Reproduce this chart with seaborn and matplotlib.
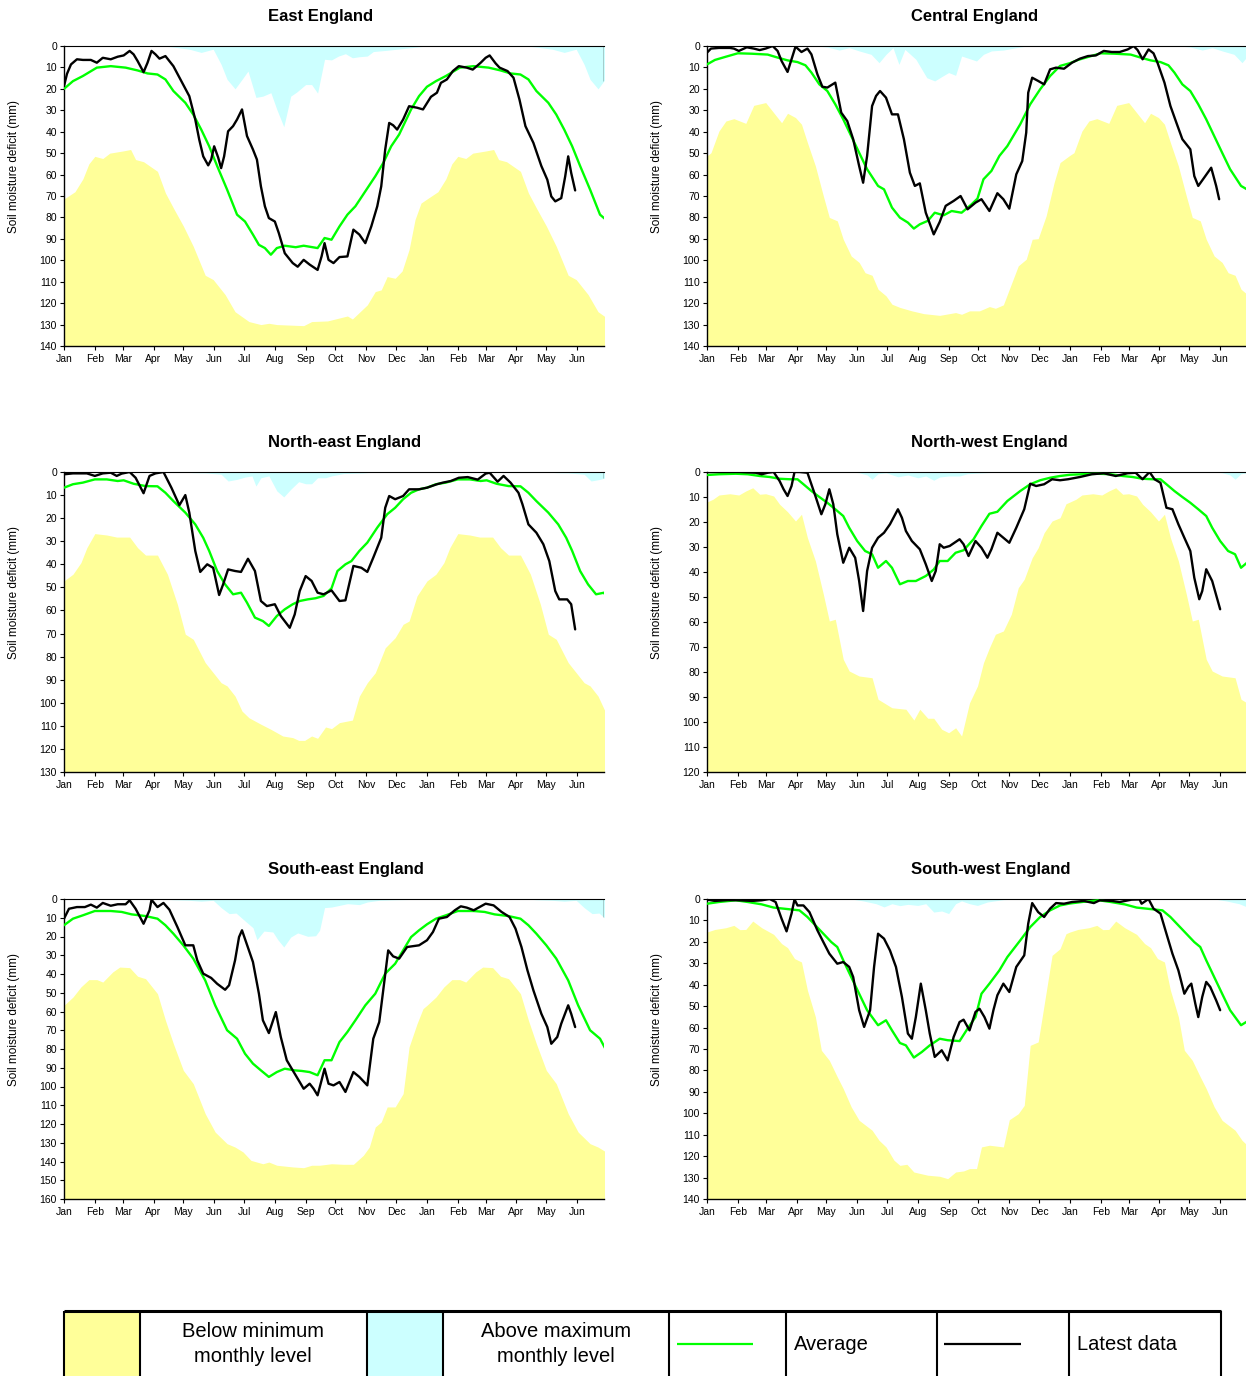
import numpy as np
import pandas as pd
import matplotlib
matplotlib.use("Agg")
import matplotlib.pyplot as plt
import seaborn as sns

# ---------------------------------------------------------------------------
# Data: soil moisture deficit (mm).  x values are days counted from 1 January.
# Minimum / maximum / average levels are calendar climatologies (one year,
# repeated for the following Jan-Jun); latest data runs for 17 months.
# ---------------------------------------------------------------------------
MONTH_LABELS = ["Jan", "Feb", "Mar", "Apr", "May", "Jun", "Jul", "Aug", "Sep",
                "Oct", "Nov", "Dec", "Jan", "Feb", "Mar", "Apr", "May", "Jun"]

REGIONS = ["East England", "Central England", "North-east England",
           "North-west England", "South-east England", "South-west England"]
Y_MAX = [140, 140, 130, 120, 160, 140]

# ---- East England ----
EAST_MIN = [(0, 71.4), (11, 68), (19, 62), (25, 55), (31, 51.5), (39, 52.5), (46, 50), (59, 49),
            (67, 48.3), (72, 53), (80, 54), (94, 58.5), (102, 68.6), (110, 75.6), (120, 84),
            (130, 93.5), (142, 107), (150, 109), (162, 116), (172, 124), (186, 128.6), (198, 130),
            (206, 129.4), (214, 130), (241, 130.5), (249, 128.6), (265, 128.3), (285, 126),
            (290, 127.4), (305, 120.8), (313, 114.6), (319, 113.8), (325, 107.6), (333, 108.4),
            (340, 105), (347, 95), (353, 81), (359, 73.3), (365, 71.4)]
EAST_MAX = [(0, 0), (100, 0), (110, 0.5), (126, 1.5), (138, 3), (150, 1.5), (158, 8.6), (164, 15.6),
            (172, 20), (179, 15.6), (185, 11.7), (193, 24), (200, 23.4), (208, 21.8), (214, 29.6),
            (221, 37.7), (228, 23.4), (234, 21.5), (243, 18), (249, 18), (255, 22), (262, 6.2),
            (269, 6.5), (276, 4.7), (283, 3.6), (290, 5.5), (297, 5), (305, 4.7), (311, 2.6),
            (325, 2), (341, 1.2), (365, 0)]
EAST_AVG = [(0, 20), (9, 16.4), (19, 14), (33, 10.1), (47, 9.4), (62, 10.1), (74, 11.4), (84, 12.8),
            (94, 13.3), (102, 15.6), (110, 21), (122, 26.5), (130, 32), (138, 39), (146, 46.8),
            (154, 56), (164, 67), (174, 78.7), (182, 81.9), (190, 88), (196, 92.8), (202, 94.3),
            (208, 97.4), (214, 94.3), (222, 93.2), (233, 93.9), (241, 93.2), (255, 94.3),
            (262, 89.6), (269, 90.4), (277, 84.2), (285, 78.7), (293, 74.8), (303, 67.8),
            (313, 60.8), (321, 54.6), (329, 46.8), (337, 41.3), (349, 29.6), (357, 23.4), (365, 19)]
EAST_LATEST = [(0, 18.7), (3, 13), (7, 8.6), (13, 6.2), (19, 6.5), (27, 6.5), (33, 7.8), (39, 5.5),
               (47, 6.2), (54, 5), (60, 4.4), (66, 2.3), (70, 3.9), (74, 7), (80, 12.2), (84, 7.8),
               (88, 2.3), (92, 3.9), (96, 5.9), (102, 4.7), (110, 9.4), (118, 16.4), (126, 23.4),
               (132, 34.3), (136, 43.7), (140, 51.5), (145, 55.7), (148, 53), (151, 46.8), (155, 52),
               (158, 57), (161, 51.5), (165, 39.8), (170, 37.4), (174, 34.3), (179, 29.6), (184, 42),
               (190, 48.3), (194, 53), (198, 65.5), (202, 74.8), (206, 80.3), (212, 81.9),
               (216, 87.3), (222, 96.7), (230, 101.3), (235, 103), (241, 99.8), (247, 102),
               (255, 104.5), (259, 98.2), (262, 92), (266, 99.8), (271, 101.3), (277, 98.5),
               (285, 98.2), (291, 85.7), (297, 88), (303, 92), (309, 84.2), (315, 74.8), (319, 65.5),
               (323, 48.3), (327, 35.9), (331, 37), (335, 39), (341, 34.3), (347, 28.1), (355, 28.8),
               (361, 29.6), (369, 23.7), (375, 21.8), (379, 17.2), (385, 15.6), (391, 11.7),
               (397, 9.4), (405, 10.1), (411, 11), (419, 7.8), (424, 5.5), (428, 4.4), (434, 8.1),
               (438, 10.1), (446, 11.7), (452, 14.8), (458, 25), (464, 37.4), (472, 45.2), (480, 56),
               (486, 62.4), (490, 70.2), (494, 72.5), (500, 71), (504, 60.8), (507, 51.5),
               (510, 59.2), (514, 67.4)]

# ---- Central England ----
CENTRAL_MIN = [(0, 51.3), (4, 49.8), (12, 39.7), (19, 35), (27, 33.9), (39, 36.1), (47, 27.7),
               (59, 26.4), (67, 31.1), (75, 35.8), (81, 31.4), (89, 33.4), (95, 36.5), (101, 45.1),
               (109, 56), (117, 70), (123, 80), (131, 81.6), (137, 90.2), (145, 98), (153, 101),
               (159, 105.8), (166, 107), (172, 113.5), (180, 116.6), (186, 120.5), (194, 122),
               (206, 123.6), (218, 124.9), (234, 125.7), (250, 124.4), (256, 125.2), (264, 123.6),
               (274, 123.6), (284, 121.6), (290, 122.4), (298, 120.8), (304, 113.5), (313, 102.6),
               (321, 99.5), (327, 90.2), (333, 89.9), (341, 79.3), (349, 63.8), (355, 54.4), (365, 51)]
CENTRAL_MAX = [(0, 0), (110, 0), (121, 0.5), (133, 1.9), (143, 0.8), (153, 2.3), (165, 3.9),
               (173, 7.8), (180, 3.9), (187, 0.8), (193, 8.6), (199, 1.6), (210, 6.2), (221, 14.8),
               (229, 16.3), (236, 14.3), (243, 12.4), (250, 13.7), (256, 4.7), (264, 5.9), (271, 7),
               (278, 3.9), (286, 2.3), (298, 1.9), (311, 0.8), (319, 0.2), (330, 0), (365, 0)]
CENTRAL_AVG = [(0, 8.6), (8, 6.5), (19, 5), (31, 3.4), (45, 3.6), (61, 4), (71, 5.4), (81, 6.7),
               (91, 7.5), (99, 9), (105, 12.4), (113, 17.9), (121, 21), (129, 27.2), (137, 34.2),
               (145, 42), (153, 49.8), (161, 57.5), (172, 65.3), (178, 66.9), (186, 75.4),
               (194, 80.1), (202, 82.4), (208, 85.2), (214, 83.2), (222, 81.6), (229, 77.8), (238, 79),
               (246, 77), (256, 77.8), (266, 73.9), (272, 71.2), (278, 62.2), (286, 58.3),
               (294, 51.3), (302, 46.7), (315, 36.5), (325, 27.2), (335, 20.2), (345, 14),
               (355, 9.3), (365, 8)]
CENTRAL_LATEST = [(0, 3.1), (4, 1.2), (12, 0.9), (23, 0.9), (27, 1.2), (32, 2.3), (40, 0.6),
                  (47, 1.2), (53, 1.9), (59, 1.2), (66, 0), (71, 2.3), (75, 7), (81, 12.1), (85, 6.2),
                  (89, 0.3), (95, 2.8), (101, 1.2), (105, 3.9), (111, 13.2), (116, 19), (121, 19.4),
                  (129, 17.1), (135, 31.1), (141, 35), (147, 43.5), (153, 56), (157, 63.8),
                  (161, 51.3), (166, 28), (170, 23.3), (174, 21), (180, 24.1), (186, 31.9),
                  (192, 31.9), (198, 43.5), (204, 59.1), (209, 65.3), (214, 64.1), (220, 77.8),
                  (228, 87.9), (234, 82.1), (240, 74.6), (248, 72.3), (255, 70), (262, 76.2),
                  (270, 73.1), (276, 71.5), (284, 77), (292, 68.7), (298, 71.5), (304, 75.9),
                  (311, 59.9), (317, 53.7), (321, 40.4), (323, 21.8), (327, 14.8), (333, 16.3),
                  (339, 17.9), (345, 10.9), (351, 10.1), (359, 10.6), (367, 7.8), (375, 5.9),
                  (383, 4.7), (391, 4.4), (399, 2.3), (407, 2.8), (415, 2.8), (423, 1.6), (429, 0),
                  (433, 1.9), (438, 6.2), (444, 1.6), (449, 3.4), (453, 7.8), (460, 17.1),
                  (466, 28), (472, 35.8), (478, 43.5), (486, 48.2), (490, 60.7), (494, 65.3),
                  (500, 61.4), (507, 56.8), (512, 65.3), (515, 71.5)]

# ---- North-east England ----
NE_MIN = [(0, 47.2), (9, 44.3), (17, 39.3), (23, 32.8), (31, 26.7), (43, 27.3), (53, 28.2),
          (66, 28.2), (74, 32.8), (82, 36), (94, 36), (104, 44.3), (114, 57.3), (122, 70.3),
          (130, 72.5), (142, 82.6), (158, 91.3), (164, 92.7), (172, 97.1), (179, 103.6),
          (186, 106.5), (198, 109.3), (208, 111.5), (220, 114.4), (230, 115.1), (236, 116.3),
          (242, 116.3), (249, 114.4), (255, 115.4), (263, 110.5), (269, 111.2), (277, 108.6),
          (290, 107.5), (297, 97.1), (305, 91.3), (313, 87), (323, 76.2), (333, 71.8), (341, 66),
          (347, 64.6), (355, 53.7), (365, 47.2)]
NE_MAX = [(0, 0), (120, 0), (130, 0.3), (142, 0.4), (158, 1), (165, 3.9), (174, 3.2), (182, 2.2),
          (189, 1.7), (193, 6.1), (198, 2.5), (206, 1.7), (214, 8.2), (221, 10.8), (228, 7.5),
          (236, 4.2), (243, 5.1), (249, 5.1), (255, 2.5), (263, 2.5), (269, 1.7), (281, 0.7),
          (301, 0.4), (313, 0), (365, 0)]
NE_AVG = [(0, 6.8), (9, 5.3), (19, 4.6), (31, 3.2), (43, 3.2), (54, 3.9), (60, 3.6), (70, 5.1),
          (82, 6.1), (94, 6.2), (102, 9), (110, 12.6), (122, 17.6), (132, 22.7), (140, 28.5),
          (146, 34.2), (154, 42.9), (162, 48.7), (170, 53), (178, 52.3), (184, 56.6), (192, 63.1),
          (200, 64.6), (206, 66.7), (214, 62.4), (222, 59.5), (230, 57.3), (237, 55.9),
          (245, 55.2), (253, 54.7), (261, 53.7), (269, 50.4), (275, 42.9), (283, 40), (289, 38.6),
          (297, 34.2), (305, 30.6), (315, 24.1), (325, 18.3), (333, 15.5), (341, 11.8), (349, 9),
          (357, 7.5), (365, 6.8)]
NE_LATEST = [(0, 1), (9, 0.6), (23, 0.6), (31, 1.7), (39, 0.6), (47, 0.3), (53, 1.7), (58, 0.7),
             (66, 0), (72, 2.5), (80, 9.2), (86, 1.7), (92, 0.6), (100, 0), (108, 6.8), (116, 14.4),
             (122, 10), (126, 17.6), (132, 34.2), (137, 43.3), (144, 40), (150, 41.5), (156, 53.3),
             (160, 48.7), (165, 42.2), (172, 42.9), (178, 43.3), (185, 37.6), (192, 42.9),
             (198, 55.9), (204, 58.1), (212, 57.3), (218, 62.4), (227, 67.5), (232, 61.7),
             (237, 51.6), (243, 45.1), (249, 47.2), (255, 52.3), (261, 53), (269, 51.3),
             (277, 55.9), (283, 55.6), (291, 40.7), (299, 41.5), (305, 43.3), (311, 37.1),
             (319, 28.5), (323, 15.5), (327, 10.4), (333, 11.8), (341, 10.4), (347, 7.5),
             (357, 7.5), (365, 6.8), (375, 5.3), (381, 4.6), (389, 3.9), (397, 2.5), (406, 2.2),
             (416, 3.3), (424, 0.7), (428, 0.3), (436, 4.2), (442, 1.7), (449, 4.6), (457, 9),
             (461, 14), (467, 22.7), (475, 26.3), (482, 31.3), (488, 38.6), (494, 51.6),
             (498, 55.2), (506, 55.2), (510, 57.3), (514, 68.2)]

# ---- North-west England ----
NW_MIN = [(0, 12), (6, 10.9), (12, 9.2), (23, 8.7), (32, 9.2), (39, 7.6), (46, 6.3), (53, 8.9),
          (59, 8.7), (67, 9.6), (73, 12.9), (81, 15.9), (89, 19.6), (95, 16.9), (101, 26.3),
          (109, 35.6), (117, 48.9), (123, 59.6), (129, 58.9), (137, 74.9), (143, 79.6),
          (153, 81.6), (166, 82.3), (172, 90.9), (186, 94.3), (200, 94.9), (208, 99.2),
          (214, 94.9), (222, 98.5), (228, 98.5), (236, 102.9), (243, 104.3), (250, 102.3),
          (256, 105.6), (264, 92.3), (272, 85.6), (278, 76.3), (284, 70.3), (290, 64.9),
          (298, 63.6), (306, 56.9), (313, 46.3), (319, 42.9), (327, 34.3), (333, 30.3),
          (339, 24.3), (347, 19.6), (355, 18.3), (361, 12.7), (365, 12)]
NW_MAX = [(0, 0), (145, 0), (153, 0.3), (161, 1.2), (166, 2.9), (172, 0.7), (180, 0.3), (192, 1.9),
          (202, 1.2), (212, 2.3), (220, 1.6), (228, 3.3), (234, 2), (243, 1.6), (254, 1.6),
          (262, 0.7), (274, 0.4), (290, 0.1), (300, 0), (365, 0)]
NW_AVG = [(0, 1.2), (12, 0.9), (29, 0.7), (41, 0.9), (53, 1.6), (63, 2), (73, 2.7), (83, 2.9),
          (91, 2.9), (97, 4.9), (105, 7.6), (113, 10), (121, 12.3), (129, 14.9), (137, 17.6),
          (143, 22.3), (151, 27.6), (159, 31.6), (166, 32.9), (172, 38.3), (180, 35.6),
          (186, 38.3), (194, 44.9), (202, 43.6), (210, 43.6), (220, 41.6), (228, 39), (234, 35.6),
          (242, 35.6), (250, 32.3), (258, 31.3), (268, 26.9), (276, 21.6), (284, 16.7),
          (292, 15.9), (302, 11.6), (315, 7.6), (325, 4.9), (335, 3.3), (345, 2.3), (355, 1.6),
          (365, 1.1)]
NW_LATEST = [(0, 0), (33, 0), (49, 0.3), (55, 0.9), (61, 0.3), (67, 0), (73, 3.6), (77, 6.9),
             (81, 9.6), (85, 5.6), (88, 0), (93, 0), (101, 0.3), (109, 9.6), (115, 16.9),
             (119, 12.9), (123, 6.9), (127, 12.9), (131, 24.9), (137, 36.3), (143, 30.3),
             (149, 34.3), (153, 43.6), (157, 55.6), (161, 39.6), (166, 30.3), (172, 26.3),
             (178, 24.3), (184, 20.9), (192, 14.9), (196, 18.3), (200, 23.6), (206, 27.6),
             (214, 30.9), (220, 36.9), (226, 43.6), (230, 39.6), (234, 28.9), (238, 30.3),
             (244, 29.6), (254, 26.9), (258, 28.9), (263, 33.6), (270, 27.6), (276, 30.3),
             (282, 34.3), (286, 30.9), (292, 24.3), (298, 26.3), (304, 28.3), (311, 22.3),
             (319, 14.9), (325, 4.7), (331, 5.6), (339, 4.9), (347, 2.9), (355, 3.3), (363, 2.9),
             (375, 2), (387, 0.9), (399, 0.5), (411, 1.6), (423, 0.5), (431, 0.3), (438, 2.9),
             (445, 0), (450, 2.9), (456, 4.3), (462, 14.3), (468, 14.9), (474, 20.9), (480, 26.3),
             (486, 31.6), (490, 42.3), (495, 50.9), (498, 47.6), (502, 38.9), (508, 43.6),
             (516, 54.9)]

# ---- South-east England ----
SE_MIN = [(0, 56.7), (9, 52.3), (17, 46.9), (25, 43), (33, 43), (39, 44.3), (49, 38.9), (56, 36.3),
          (66, 36.6), (74, 41.2), (82, 42.5), (94, 50.5), (102, 64.7), (110, 77.2), (120, 91.4),
          (130, 98.5), (142, 114.5), (152, 124.3), (164, 130.5), (172, 132.3), (180, 134.9),
          (188, 139.4), (200, 141.2), (206, 140.3), (214, 142), (230, 142.9), (241, 143.3),
          (249, 142), (257, 142), (269, 141.2), (281, 141.5), (291, 141.5), (301, 136.7),
          (307, 132.3), (313, 121.6), (319, 118.9), (325, 110.9), (333, 110.9), (341, 103.8),
          (347, 78.9), (355, 66.5), (361, 58.5), (365, 56.7)]
SE_MAX = [(0, 0), (100, 0), (110, 0.4), (126, 0.7), (138, 1.2), (150, 0.7), (158, 4.6), (166, 7.8),
          (173, 7.5), (182, 11.7), (190, 15.3), (194, 21.7), (201, 17.1), (210, 17.6), (215, 21.7),
          (221, 25.6), (228, 20.3), (235, 18.1), (245, 19.9), (253, 19.6), (257, 16.7), (262, 4.6),
          (269, 4.3), (277, 3.4), (285, 2.5), (297, 3), (305, 1.6), (317, 0.7), (333, 0.4),
          (353, 0.2), (365, 0)]
SE_AVG = [(0, 14), (9, 10.5), (19, 8.7), (31, 6.4), (47, 6.4), (58, 6.9), (68, 8.2), (82, 9.1),
          (94, 10.5), (102, 14), (110, 18.5), (120, 24.7), (130, 31.8), (142, 43.4), (152, 56.7),
          (164, 70), (174, 74.5), (182, 82.5), (190, 87.8), (198, 91.4), (206, 94.9), (214, 92.3),
          (222, 90.5), (232, 91.4), (239, 91.7), (247, 92.3), (255, 94), (262, 86), (269, 86),
          (277, 76.3), (285, 70.9), (293, 64.7), (303, 56.7), (313, 50.5), (323, 39.8),
          (333, 34.5), (341, 27.4), (349, 20.3), (357, 16.7), (365, 13.5)]
SE_LATEST = [(0, 10.5), (5, 5.2), (13, 4.3), (21, 4.3), (27, 3), (33, 4.6), (39, 2.1), (47, 3.6),
             (54, 2.8), (62, 2.8), (66, 0.7), (72, 5.2), (80, 13.2), (86, 6), (88, 0.4), (94, 4.3),
             (100, 2.1), (106, 5.7), (114, 14.9), (122, 24.7), (130, 24.7), (134, 32.7),
             (140, 39.8), (148, 42.1), (154, 45.2), (162, 48.4), (166, 46), (172, 32.7),
             (176, 20.3), (179, 16.7), (190, 33.6), (196, 50.5), (200, 64.7), (206, 71.5),
             (213, 60.3), (218, 73.6), (224, 86), (230, 91.4), (237, 97.6), (241, 101.2),
             (247, 98.5), (251, 101.2), (255, 104.7), (259, 96.7), (262, 90.5), (266, 98.5),
             (271, 99.4), (277, 97.6), (283, 102.9), (291, 92.3), (297, 94.9), (305, 99.4),
             (311, 74.5), (317, 65.6), (321, 48.7), (326, 27.4), (331, 30.6), (337, 31.8),
             (345, 25.6), (357, 24.7), (365, 22), (371, 17.6), (377, 10.5), (385, 9.6), (393, 6),
             (399, 3.9), (405, 4.6), (412, 6), (424, 2.5), (432, 3.4), (440, 6.9), (448, 9.6),
             (454, 15.8), (460, 25.6), (466, 38), (472, 48.7), (480, 61.2), (486, 68.3),
             (490, 77.2), (496, 73.6), (500, 66.5), (507, 56.7), (510, 61.2), (514, 68.3)]

# ---- South-west England ----
SW_MIN = [(0, 15.4), (8, 14.2), (19, 13.4), (27, 12.3), (33, 14.3), (39, 14.2), (46, 10.3),
          (55, 13.4), (67, 16.5), (75, 20.8), (81, 22.7), (88, 27.8), (95, 29.4), (101, 42.6),
          (109, 55), (115, 70.6), (123, 75.3), (131, 83), (137, 88.5), (145, 97), (153, 103.3),
          (166, 107.9), (173, 112.6), (180, 115.7), (188, 121.9), (194, 124.3), (201, 123.8),
          (208, 127.4), (222, 128.9), (234, 129.4), (242, 130.5), (250, 127.4), (258, 126.9),
          (264, 125.8), (271, 125.8), (276, 115.7), (284, 114.9), (298, 115.7), (304, 103),
          (313, 100.2), (319, 96.3), (325, 68.3), (333, 66.7), (347, 26.3), (355, 23.2),
          (361, 16.2), (365, 15.4)]
SW_MAX = [(0, 0), (145, 0), (157, 0.9), (170, 2.2), (178, 3.7), (186, 2.2), (194, 3.1), (202, 2.5),
          (212, 3), (220, 2.2), (228, 6.1), (236, 5.6), (243, 6.8), (250, 2.2), (256, 0.9),
          (264, 2.2), (272, 3), (282, 1.4), (298, 0.3), (315, 0), (365, 0)]
SW_AVG = [(0, 2.2), (12, 1.4), (29, 0.6), (41, 1.4), (55, 2.5), (67, 4), (81, 4.7), (93, 5.3),
          (101, 8.4), (109, 12.3), (117, 16.2), (125, 20.1), (131, 22.4), (137, 28.6), (145, 36.4),
          (153, 44.2), (161, 51.9), (172, 58.9), (180, 56.6), (186, 61.3), (194, 67.2),
          (200, 68.3), (208, 74), (216, 71.4), (224, 68.3), (234, 65.2), (242, 65.9), (254, 66.3),
          (262, 60.5), (270, 55.1), (276, 44.2), (284, 39.5), (294, 33.3), (302, 27.1),
          (315, 19.3), (325, 13.1), (335, 8.4), (345, 5.3), (355, 3), (365, 2.1)]
SW_LATEST = [(0, 0.3), (8, 0.9), (21, 0.5), (33, 0.6), (45, 0.9), (55, 0.6), (63, 0), (69, 1.4),
             (75, 9.2), (80, 15.1), (85, 6.8), (88, 0.2), (91, 3), (97, 3), (103, 6.1), (111, 14.6),
             (117, 20.1), (123, 25.5), (131, 30.2), (137, 29.4), (143, 31.7), (147, 36.4),
             (153, 51.9), (158, 59.7), (164, 51.9), (168, 31.7), (172, 16.2), (178, 18.5),
             (184, 24), (190, 31.7), (196, 45.7), (202, 62.8), (206, 65.2), (210, 55.1),
             (215, 39.5), (220, 51.9), (224, 62.8), (229, 73.7), (236, 70.6), (242, 75.3),
             (248, 64.4), (254, 57.4), (258, 56.3), (264, 61.3), (270, 52.7), (274, 51.2),
             (279, 55.1), (284, 60.5), (288, 51.9), (292, 44.9), (298, 39.5), (304, 43.4),
             (311, 31.7), (319, 26.3), (323, 11.5), (327, 1.9), (333, 6.1), (339, 8.4), (345, 4.5),
             (351, 1.9), (359, 2.2), (367, 1.4), (379, 0.9), (389, 1.9), (395, 0.6), (407, 0.9),
             (415, 1.4), (427, 0.3), (435, 0.2), (437, 2.2), (444, 0), (449, 4.5), (456, 6.8),
             (462, 16.2), (468, 25.5), (474, 33.3), (480, 44.2), (484, 41), (487, 39.5),
             (491, 48.8), (494, 55.1), (498, 45.7), (502, 38.7), (506, 41), (512, 47.3),
             (516, 51.9)]

PANELS = [
    (EAST_MIN, EAST_MAX, EAST_AVG, EAST_LATEST),
    (CENTRAL_MIN, CENTRAL_MAX, CENTRAL_AVG, CENTRAL_LATEST),
    (NE_MIN, NE_MAX, NE_AVG, NE_LATEST),
    (NW_MIN, NW_MAX, NW_AVG, NW_LATEST),
    (SE_MIN, SE_MAX, SE_AVG, SE_LATEST),
    (SW_MIN, SW_MAX, SW_AVG, SW_LATEST),
]

# ---------------------------------------------------------------------------
# Styling
# ---------------------------------------------------------------------------
YELLOW = "#FFFF99"
CYAN = "#CCFFFF"
GREEN = "#00FF00"
DAYS_PER_YEAR = 365
X_END = 543

sns.set_theme(style="white")
plt.rcParams["font.family"] = ["Liberation Sans", "DejaVu Sans"]
plt.rcParams["text.color"] = "black"
plt.rcParams["axes.labelcolor"] = "black"
plt.rcParams["xtick.color"] = "black"
plt.rcParams["ytick.color"] = "black"
plt.rcParams["axes.linewidth"] = 1.0

month_starts = pd.date_range("2001-01-01", periods=len(MONTH_LABELS), freq="MS")
TICK_DAYS = (month_starts - month_starts[0]).days.values


def unpack(points):
    d = np.array([p[0] for p in points], dtype=float)
    v = np.array([p[1] for p in points], dtype=float)
    return d, v


def climatology(points):
    """Calendar-year series repeated for the following year."""
    d, v = unpack(points)
    return (np.concatenate([d, d[1:] + DAYS_PER_YEAR]),
            np.concatenate([v, v[1:]]))


W, H = 1246, 1376
fig = plt.figure(figsize=(W / 100, H / 100), dpi=100)

COL_LEFT = [64, 707]
ROW_TOP = [46, 472, 899]
AX_W, AX_H = 540, 300

for i, (title, ymax, series) in enumerate(zip(REGIONS, Y_MAX, PANELS)):
    row, col = divmod(i, 2)
    left = COL_LEFT[col] / W
    bottom = 1 - (ROW_TOP[row] + AX_H) / H
    ax = fig.add_axes([left, bottom, AX_W / W, AX_H / H])

    s_min, s_max, s_avg, s_latest = series

    d, v = climatology(s_min)
    ax.fill_between(d, v, ymax, color=YELLOW, linewidth=0, zorder=1)
    d, v = climatology(s_max)
    ax.fill_between(d, 0, v, color=CYAN, linewidth=0, zorder=1)
    ax.vlines(X_END, 0, np.interp(X_END, d, v), color="black", linewidth=1.0, zorder=3)

    d, v = climatology(s_avg)
    avg_df = pd.DataFrame({"day": d, "deficit": v})
    sns.lineplot(data=avg_df, x="day", y="deficit", ax=ax, color=GREEN,
                 linewidth=1.7, estimator=None, zorder=4,
                 solid_joinstyle="round", solid_capstyle="round")

    d, v = unpack(s_latest)
    latest_df = pd.DataFrame({"day": d, "deficit": v})
    sns.lineplot(data=latest_df, x="day", y="deficit", ax=ax, color="black",
                 linewidth=1.7, estimator=None, zorder=5,
                 solid_joinstyle="round", solid_capstyle="round")

    ax.set_xlim(0, X_END)
    ax.set_ylim(ymax, 0)
    ax.set_xlabel("")
    ax.set_ylabel("")
    ax.set_xticks(TICK_DAYS)
    ax.set_xticklabels(MONTH_LABELS)
    ax.set_yticks(np.arange(0, ymax + 1, 10))
    ax.tick_params(axis="both", which="major", direction="out", length=3, width=0.8,
                   color="black", labelsize=7.5, labelcolor="black",
                   bottom=True, left=True, top=False, right=False)
    ax.tick_params(axis="y", pad=2)
    ax.tick_params(axis="x", pad=3)
    ax.grid(False)
    for side in ("left", "bottom"):
        ax.spines[side].set_color("black")
        ax.spines[side].set_linewidth(1.0)
    ax.spines["top"].set_color("black")
    ax.spines["top"].set_linewidth(0.8)
    ax.spines["right"].set_visible(False)

    ax.text(0.378, 1 + 25 / AX_H, title, transform=ax.transAxes, ha="left",
            va="baseline", fontsize=12, fontweight="bold", color="black")
    ax.text(-50 / AX_W, 0.597, "Soil moisture deficit (mm)", transform=ax.transAxes,
            rotation=90, ha="center", va="center", fontsize=8.5, color="black")

# ---------------------------------------------------------------------------
# Key along the bottom (drawn in pixel units, y measured from the top)
# ---------------------------------------------------------------------------
KEY_LEFT, KEY_RIGHT, KEY_TOP = 64, 1221, 1311
key = fig.add_axes([KEY_LEFT / W, 0, (KEY_RIGHT - KEY_LEFT) / W, (H - KEY_TOP) / H])
key.set_xlim(KEY_LEFT, KEY_RIGHT)
key.set_ylim(H, KEY_TOP)
key.axis("off")

key.axvspan(64, 140, color=YELLOW, linewidth=0)
key.axvspan(367, 443, color=CYAN, linewidth=0)
key.hlines(KEY_TOP, KEY_LEFT, KEY_RIGHT, color="black", linewidth=2.2, clip_on=False)
key.vlines([64, 140, 367, 443, 669, 786, 937, 1069, 1221], KEY_TOP, H, color="black",
           linewidth=1.5, clip_on=False)
key.hlines(1344, 677, 753, color=GREEN, linewidth=1.6)
key.hlines(1344, 944, 1021, color="black", linewidth=1.6)

KEY_FONT = 14.5
key.text(253, 1337, "Below minimum", ha="center", va="baseline", fontsize=KEY_FONT, color="black")
key.text(253, 1362, "monthly level", ha="center", va="baseline", fontsize=KEY_FONT, color="black")
key.text(556, 1337, "Above maximum", ha="center", va="baseline", fontsize=KEY_FONT, color="black")
key.text(556, 1362, "monthly level", ha="center", va="baseline", fontsize=KEY_FONT, color="black")
key.text(794, 1350, "Average", ha="left", va="baseline", fontsize=KEY_FONT, color="black")
key.text(1077, 1350, "Latest data", ha="left", va="baseline", fontsize=KEY_FONT, color="black")

fig.savefig("out.png", dpi=100)
